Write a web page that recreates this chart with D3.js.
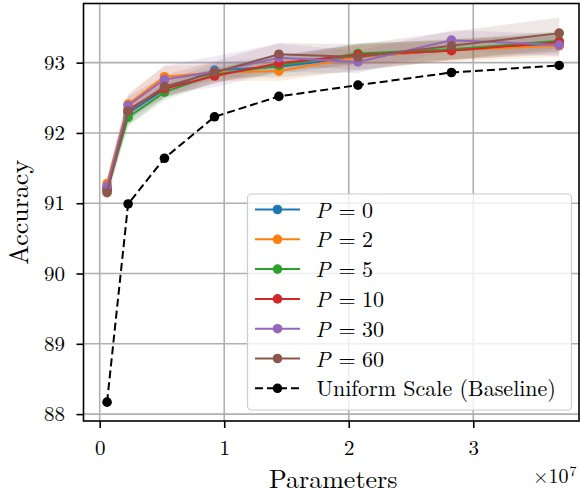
<!DOCTYPE html>
<html><head><meta charset="utf-8">
<script src="https://cdn.jsdelivr.net/npm/d3@7"></script>
<style>body{margin:0;background:#fff}svg{display:block}</style>
</head><body><svg id="c" width="580" height="495"></svg>
<script>
// Parameters (x 1e7)
const params = [0.059, 0.228, 0.520, 0.922, 1.439, 2.074, 2.825, 3.690];
const seriesNames = ["P = 0", "P = 2", "P = 5", "P = 10", "P = 30", "P = 60"];
const pLabels = ["0", "2", "5", "10", "30", "60"];
const colors = ["#1f77b4", "#ff7f0e", "#2ca02c", "#d62728", "#9467bd", "#8c564b"];
const accP0  = [91.22, 92.28, 92.62, 92.89, 92.94, 93.08, 93.18, 93.26];
const accP2  = [91.28, 92.41, 92.80, 92.86, 92.88, 93.08, 93.18, 93.24];
const accP5  = [91.19, 92.22, 92.58, 92.83, 92.96, 93.13, 93.19, 93.31];
const accP10 = [91.19, 92.33, 92.63, 92.81, 92.99, 93.11, 93.17, 93.29];
const accP30 = [91.24, 92.39, 92.76, 92.87, 93.07, 93.01, 93.32, 93.25];
const accP60 = [91.15, 92.31, 92.66, 92.86, 93.12, 93.08, 93.24, 93.42];
const stdP0  = [0.08, 0.10, 0.12, 0.10, 0.15, 0.20, 0.14, 0.14];
const stdP2  = [0.10, 0.15, 0.15, 0.12, 0.14, 0.18, 0.16, 0.16];
const stdP5  = [0.08, 0.12, 0.12, 0.10, 0.12, 0.14, 0.14, 0.14];
const stdP10 = [0.08, 0.10, 0.12, 0.10, 0.12, 0.14, 0.14, 0.14];
const stdP30 = [0.10, 0.15, 0.20, 0.22, 0.20, 0.16, 0.14, 0.16];
const stdP60 = [0.10, 0.20, 0.16, 0.16, 0.16, 0.18, 0.20, 0.22];
const baseline = [88.17, 90.99, 91.64, 92.23, 92.52, 92.68, 92.86, 92.96];
const baselineName = "Uniform Scale (Baseline)";
const xTicks = [0, 1, 2, 3];
const yTicks = [88, 89, 90, 91, 92, 93];

const accs = [accP0, accP2, accP5, accP10, accP30, accP60];
const stds = [stdP0, stdP2, stdP5, stdP10, stdP30, stdP60];

const svg = d3.select("#c");
const L = 83.5, R = 579, T = 3.5, B = 421;
const x = d3.scaleLinear().domain([-0.1302, 3.8492]).range([L, R]);
const y = d3.scaleLinear().domain([87.9019, 93.8415]).range([B, T]);
const font = '"Latin Modern Roman", serif';

svg.append("clipPath").attr("id", "clip").append("rect")
  .attr("x", L).attr("y", T).attr("width", R - L).attr("height", B - T);

const grid = svg.append("g");
xTicks.forEach(t => grid.append("line").attr("x1", x(t)).attr("x2", x(t)).attr("y1", T).attr("y2", B)
  .attr("stroke", "#b0b0b0").attr("stroke-width", 1.6));
yTicks.forEach(t => grid.append("line").attr("x1", L).attr("x2", R).attr("y1", y(t)).attr("y2", y(t))
  .attr("stroke", "#b0b0b0").attr("stroke-width", 1.6));

const plot = svg.append("g").attr("clip-path", "url(#clip)");
const line = d3.line().x(d => x(d[0])).y(d => y(d[1]));
const area = d3.area().x(d => x(d[0])).y0(d => y(d[1] - d[2])).y1(d => y(d[1] + d[2]));

accs.forEach((acc, i) => {
  const pts = params.map((p, j) => [p, acc[j], stds[i][j]]);
  plot.append("path").attr("d", area(pts)).attr("fill", colors[i]).attr("fill-opacity", 0.14).attr("stroke", "none");
});
accs.forEach((acc, i) => {
  const pts = params.map((p, j) => [p, acc[j]]);
  plot.append("path").attr("d", line(pts)).attr("fill", "none").attr("stroke", colors[i]).attr("stroke-width", 2);
  plot.selectAll(null).data(pts).enter().append("circle")
    .attr("cx", d => x(d[0])).attr("cy", d => y(d[1])).attr("r", 4.8).attr("fill", colors[i]);
});
const bpts = params.map((p, j) => [p, baseline[j]]);
plot.append("path").attr("d", line(bpts)).attr("fill", "none").attr("stroke", "#000")
  .attr("stroke-width", 2).attr("stroke-dasharray", "8,4");
plot.selectAll(null).data(bpts).enter().append("circle")
  .attr("cx", d => x(d[0])).attr("cy", d => y(d[1])).attr("r", 4.8).attr("fill", "#000");

const xAxis = svg.append("g").attr("transform", `translate(0,${B})`)
  .call(d3.axisBottom(x).tickValues(xTicks).tickFormat(d3.format("d")).tickSize(7));
const yAxis = svg.append("g").attr("transform", `translate(${L},0)`)
  .call(d3.axisLeft(y).tickValues(yTicks).tickFormat(d3.format("d")).tickSize(7));
[xAxis, yAxis].forEach(a => {
  a.attr("font-family", font).attr("font-size", 21);
  a.select(".domain").remove();
  a.selectAll(".tick line").attr("stroke", "#000").attr("stroke-width", 1.6);
  a.selectAll("text").attr("fill", "#000");
});
xAxis.selectAll("text").attr("y", 34).attr("dy", 0);
yAxis.selectAll("text").attr("x", 65 - L).attr("dy", "0.32em");

svg.append("rect").attr("x", L).attr("y", T).attr("width", R - L).attr("height", B - T)
  .attr("fill", "none").attr("stroke", "#000").attr("stroke-width", 1.6);

svg.append("text").attr("x", (L + R) / 2 + 2).attr("y", 488).attr("text-anchor", "middle")
  .attr("font-family", font).attr("font-size", 26).text("Parameters");
svg.append("text").attr("transform", `translate(28,${(T + B) / 2}) rotate(-90)`).attr("text-anchor", "middle")
  .attr("font-family", font).attr("font-size", 26).text("Accuracy");
svg.append("text").attr("x", 533).attr("y", 483)
  .attr("font-family", font).attr("font-size", 20).text("×10");
svg.append("text").attr("x", 569.5).attr("y", 476).attr("font-family", font).attr("font-size", 14).text("7");

const lg = svg.append("g");
lg.append("rect").attr("x", 247.5).attr("y", 194).attr("width", 324).attr("height", 216).attr("rx", 4)
  .attr("fill", "#fff").attr("fill-opacity", 0.8).attr("stroke", "#cccccc").attr("stroke-width", 1.2);
const rowY = i => 209.5 + i * 29.8;
seriesNames.forEach((name, i) => {
  const yy = rowY(i);
  lg.append("line").attr("x1", 255).attr("x2", 300).attr("y1", yy).attr("y2", yy).attr("stroke", colors[i]).attr("stroke-width", 2);
  lg.append("circle").attr("cx", 277.5).attr("cy", yy).attr("r", 4.8).attr("fill", colors[i]);
  const t = lg.append("text").attr("y", yy + 8).attr("font-family", font).attr("font-size", 22);
  t.append("tspan").attr("x", 315.5).attr("font-style", "italic").text("P");
  t.append("tspan").attr("x", 338.5).text("=");
  t.append("tspan").attr("x", 362).text(pLabels[i]);
});
{
  const yy = rowY(6);
  lg.append("line").attr("x1", 255).attr("x2", 300).attr("y1", yy).attr("y2", yy).attr("stroke", "#000")
    .attr("stroke-width", 2).attr("stroke-dasharray", "8,4");
  lg.append("circle").attr("cx", 277.5).attr("cy", yy).attr("r", 4.8).attr("fill", "#000");
  lg.append("text").attr("x", 316.5).attr("y", yy + 8).attr("font-family", font).attr("font-size", 22).text(baselineName);
}
</script></body></html>
